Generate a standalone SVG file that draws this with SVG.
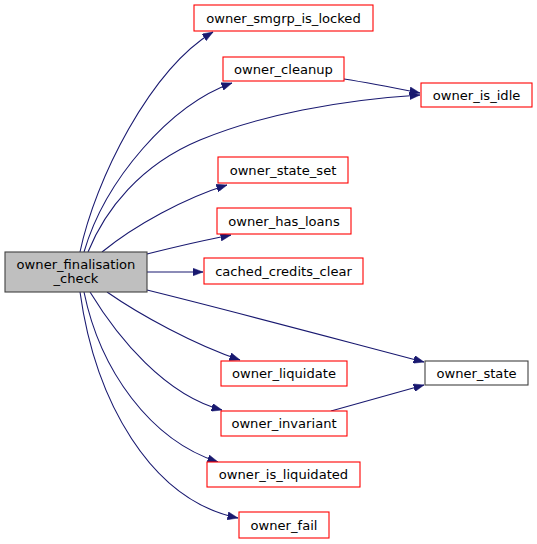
<svg xmlns="http://www.w3.org/2000/svg" width="537" height="544" viewBox="0 0 537 544">
<defs>
<marker id="ah" markerUnits="userSpaceOnUse" markerWidth="11" markerHeight="8" refX="10.5" refY="4" orient="auto">
<path d="M0,0 L10.5,4 L0,8 z" fill="#191970" stroke="#191970" stroke-width="0.5"/>
</marker>
</defs>
<style>
.e{fill:none;stroke:#191970;stroke-width:1.1;marker-end:url(#ah)}
.n rect{fill:#fff;stroke:#ff0000;stroke-width:1.1}
.k rect{fill:#fff;stroke:#404040;stroke-width:1.1}
.m rect{fill:#bfbfbf;stroke:#404040;stroke-width:1.1}
text{font-family:"DejaVu Sans",sans-serif;font-size:13.1px;fill:#000;text-anchor:middle}
</style>
<rect width="537" height="544" fill="#fff"/>
<g id="edges">
<path class="e" d="M80,252 C95,180 150,70 213,32"/>
<path class="e" d="M84,252 C105,180 170,105 232,83"/>
<path class="e" d="M88,252 C105,210 140,165 200,140 C260,115 340,100 420,95"/>
<path class="e" d="M344,79 C370,83 395,88 420,93"/>
<path class="e" d="M102,252 C135,225 185,198 227,185"/>
<path class="e" d="M147,254 C175,247 205,240 231,235"/>
<path class="e" d="M147,272 L203,272"/>
<path class="e" d="M147,290 C240,313 340,340 424,362"/>
<path class="e" d="M107,292 C140,315 195,345 240,360"/>
<path class="e" d="M90,292 C118,338 165,395 222,410"/>
<path class="e" d="M84,292 C100,370 150,440 218,462"/>
<path class="e" d="M80,292 C95,400 150,500 238,518"/>
<path class="e" d="M331,411 C360,403 395,393 424,385"/>
</g>
<g id="owner_finalisation_check" class="m"><rect x="5" y="252" width="142" height="40"/><text x="76" y="268.5">owner_finalisation</text><text x="76" y="283">_check</text></g>
<g id="owner_smgrp_is_locked" class="n"><rect x="194" y="5" width="179" height="26"/><text x="283.5" y="22.5">owner_smgrp_is_locked</text></g>
<g id="owner_cleanup" class="n"><rect x="223" y="57" width="121" height="24"/><text x="283.5" y="73.5">owner_cleanup</text></g>
<g id="owner_is_idle" class="n"><rect x="421" y="83" width="111" height="24"/><text x="476.5" y="99.5">owner_is_idle</text></g>
<g id="owner_state_set" class="n"><rect x="218" y="157" width="130" height="26"/><text x="283" y="174.5">owner_state_set</text></g>
<g id="owner_has_loans" class="n"><rect x="217" y="208" width="134" height="26"/><text x="284" y="225.5">owner_has_loans</text></g>
<g id="cached_credits_clear" class="n"><rect x="204" y="258" width="159" height="26"/><text x="283.5" y="275.5">cached_credits_clear</text></g>
<g id="owner_state" class="k"><rect x="425" y="361" width="103" height="24"/><text x="476.5" y="377.5">owner_state</text></g>
<g id="owner_liquidate" class="n"><rect x="221" y="361" width="126" height="25"/><text x="284" y="378">owner_liquidate</text></g>
<g id="owner_invariant" class="n"><rect x="221" y="411" width="126" height="25"/><text x="284" y="428">owner_invariant</text></g>
<g id="owner_is_liquidated" class="n"><rect x="207" y="462" width="153" height="25"/><text x="283.5" y="479">owner_is_liquidated</text></g>
<g id="owner_fail" class="n"><rect x="239" y="512" width="90" height="26"/><text x="284" y="529.5">owner_fail</text></g>
</svg>
